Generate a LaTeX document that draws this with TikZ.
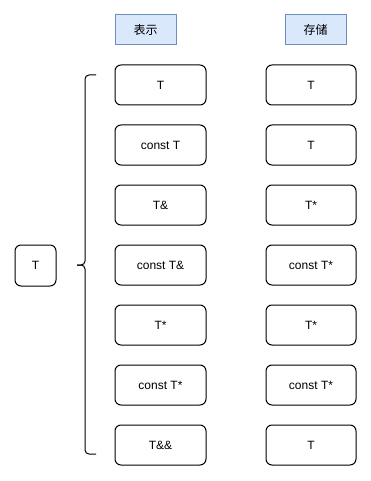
\documentclass[tikz,border=0pt]{standalone}
\usepackage{fontspec}
\setmainfont{Liberation Sans}
\newfontfamily\cjk{Noto Sans CJK SC}
\usepackage{tikz}
\usetikzlibrary{arrows.meta,calc}
\tikzset{box/.style={draw,line width=1pt,rounded corners=6pt,minimum width=91pt,
           minimum height=40pt,inner sep=0pt,font=\fontsize{12pt}{14pt}\selectfont},
         hdr/.style={draw=hdrline,fill=hdrfill,line width=1pt,minimum width=61pt,
           minimum height=30pt,inner sep=0pt,font=\cjk\fontsize{12pt}{14pt}\selectfont}}
\definecolor{hdrfill}{HTML}{DAE8FC}
\definecolor{hdrline}{HTML}{6C8EBF}

\begin{document}
\begin{tikzpicture}[x=1pt,y=-1pt]
  \useasboundingbox (0,0) rectangle (371,481);
  \node[hdr] (repr) at (145.5,30) {表示};
  \node[hdr] (stor) at (315.5,30) {存储};
  \node[box,minimum width=41pt,minimum height=41pt] (src) at (35.5,265.5) {T};
  % representation
  \node[box] (r1) at (160.5,85) {T};
  \node[box] (r2) at (160.5,145) {const T};
  \node[box] (r3) at (160.5,205) {T\&};
  \node[box] (r4) at (160.5,265) {const T\&};
  \node[box] (r5) at (160.5,325) {T*};
  \node[box] (r6) at (160.5,385) {const T*};
  \node[box] (r7) at (160.5,445) {T\&\&};
  % storage
  \node[box,minimum width=90pt] (s1) at (311,85) {T};
  \node[box,minimum width=90pt] (s2) at (311,145) {T};
  \node[box,minimum width=90pt] (s3) at (311,205) {T*};
  \node[box,minimum width=90pt] (s4) at (311,265) {const T*};
  \node[box,minimum width=90pt] (s5) at (311,325) {T*};
  \node[box,minimum width=90pt] (s6) at (311,385) {const T*};
  \node[box,minimum width=90pt] (s7) at (311,445) {T};
  % brace
  \draw[line width=1pt,rounded corners=4pt] (96,75) -- (85,75) -- (85,265) -- (77,265);
  \draw[line width=1pt,rounded corners=4pt] (96,454) -- (85,454) -- (85,265) -- (77,265);
\end{tikzpicture}
\end{document}
